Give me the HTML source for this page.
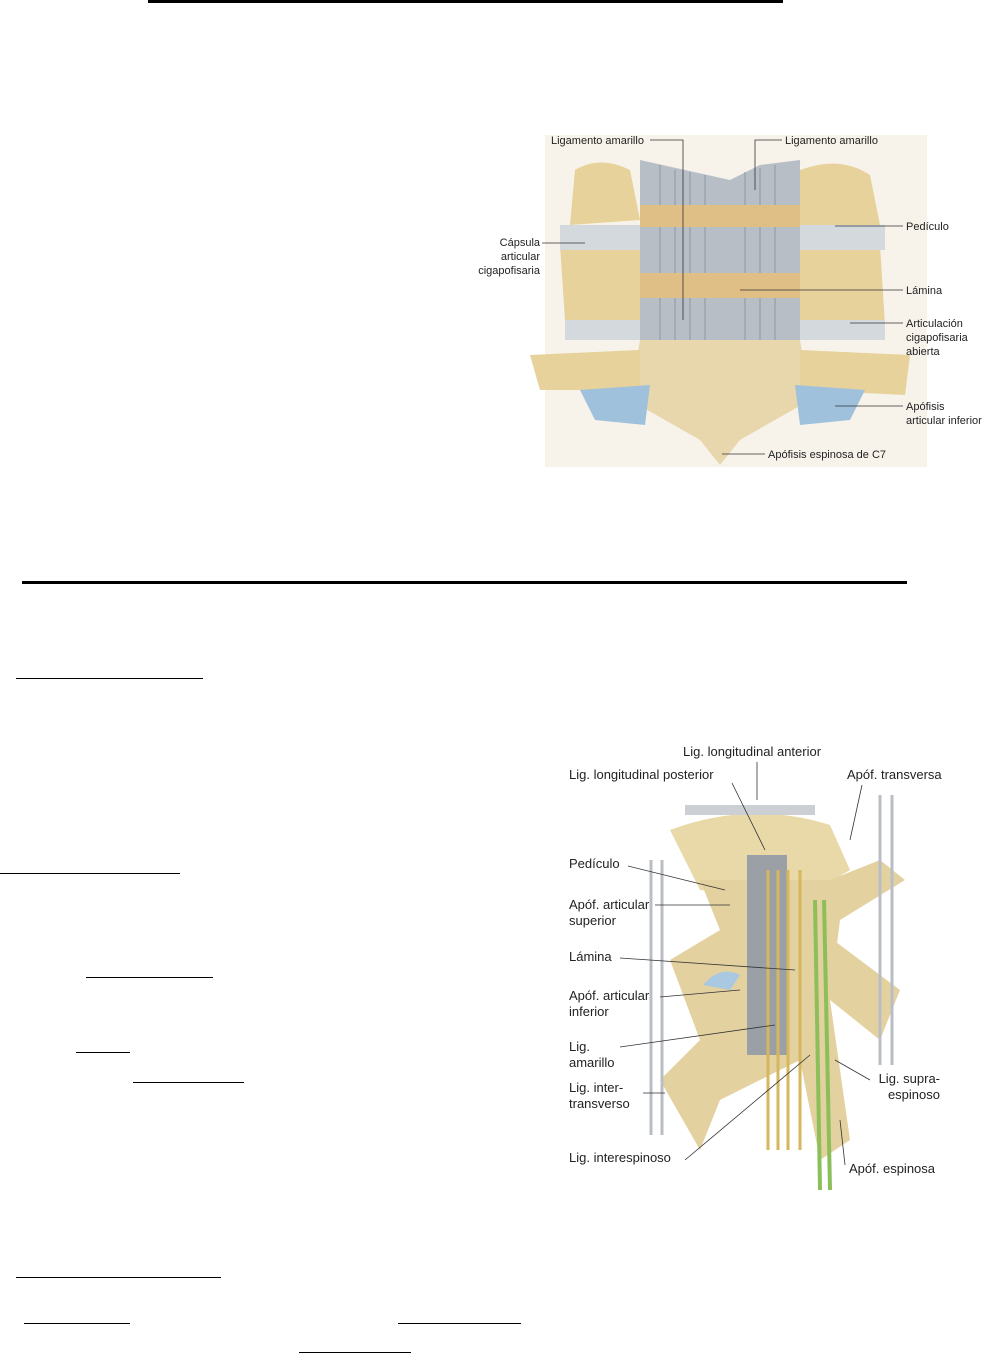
<!DOCTYPE html>
<html><head><meta charset="utf-8">
<style>
body{margin:0;width:1004px;height:1354px;background:#fff;position:relative;overflow:hidden;font-family:"Liberation Sans",Arial,sans-serif;}
.l{position:absolute;background:#000;}
.t{position:absolute;font-size:11px;color:#222;line-height:14px;white-space:nowrap;}
.t2{position:absolute;font-size:13px;color:#222;line-height:16px;white-space:nowrap;}
</style></head><body>
<div class="l" style="left:148px;top:0;width:635px;height:3px"></div>
<div class="l" style="left:22px;top:581px;width:885px;height:3px"></div>
<div class="l" style="left:16px;top:678px;width:187px;height:1px"></div>
<div class="l" style="left:0;top:873px;width:180px;height:1px"></div>
<div class="l" style="left:86px;top:977px;width:127px;height:1px"></div>
<div class="l" style="left:76px;top:1052px;width:54px;height:1px"></div>
<div class="l" style="left:133px;top:1082px;width:111px;height:1px"></div>
<div class="l" style="left:16px;top:1277px;width:205px;height:1px"></div>
<div class="l" style="left:24px;top:1323px;width:106px;height:1px"></div>
<div class="l" style="left:398px;top:1323px;width:123px;height:1px"></div>
<div class="l" style="left:299px;top:1352px;width:112px;height:1px"></div>

<svg style="position:absolute;left:0;top:0" width="1004" height="1354">
<!-- figure 1 -->
<rect x="545" y="135" width="382" height="332" fill="#f7f3ea"/>
<path d="M640 160 L730 180 L760 165 L800 160 L800 340 L640 340 Z" fill="#b7bec6"/>
<g stroke="#8d96a0" stroke-width="1">
<line x1="660" y1="165" x2="660" y2="340"/><line x1="675" y1="170" x2="675" y2="340"/><line x1="690" y1="172" x2="690" y2="340"/><line x1="705" y1="175" x2="705" y2="340"/><line x1="745" y1="172" x2="745" y2="340"/><line x1="760" y1="168" x2="760" y2="340"/><line x1="775" y1="165" x2="775" y2="340"/></g>
<rect x="640" y="205" width="160" height="22" fill="#e0bf86"/>
<rect x="640" y="273" width="160" height="25" fill="#e0bf86"/>
<path d="M640 340 L800 340 L810 400 L740 440 L720 465 L700 440 L630 400 Z" fill="#e8d7ad"/>
<path d="M575 170 Q600 155 630 170 L640 220 L570 225 Z" fill="#e6d29a"/>
<path d="M560 245 L640 250 L640 330 L565 320 Z" fill="#e6d29a"/>
<path d="M800 170 Q840 155 870 175 L880 225 L800 225 Z" fill="#e6d29a"/>
<path d="M800 250 L880 245 L885 325 L800 330 Z" fill="#e6d29a"/>
<rect x="560" y="225" width="80" height="25" fill="#d4d9de"/>
<rect x="800" y="225" width="85" height="25" fill="#d4d9de"/>
<rect x="565" y="320" width="75" height="20" fill="#d4d9de"/>
<rect x="800" y="320" width="85" height="20" fill="#d4d9de"/>
<path d="M530 355 L640 350 L640 390 L540 390 Z" fill="#e6d29a"/>
<path d="M800 350 L910 355 L905 395 L800 390 Z" fill="#e6d29a"/>
<path d="M580 390 L650 385 L645 425 L595 420 Z" fill="#9fc1dc"/>
<path d="M795 385 L865 390 L850 420 L800 425 Z" fill="#9fc1dc"/>
<g stroke="#333" stroke-width="0.8" fill="none">
<path d="M650 140 L683 140 L683 320"/><path d="M782 140 L755 140 L755 190"/>
<line x1="542" y1="243" x2="585" y2="243"/><line x1="835" y1="226" x2="903" y2="226"/>
<line x1="740" y1="290" x2="903" y2="290"/><line x1="850" y1="323" x2="903" y2="323"/>
<line x1="835" y1="406" x2="903" y2="406"/><line x1="722" y1="454" x2="765" y2="454"/>
</g>
<!-- figure 2 -->
<rect x="595" y="810" width="340" height="30" fill="#fff"/>
<path d="M670 830 Q750 800 830 825 L850 870 L800 900 L700 890 Z" fill="#ead9a8"/>
<rect x="685" y="805" width="130" height="10" fill="#ccd0d4"/>
<path d="M700 880 L830 880 L880 860 L905 880 L840 920 L830 1000 L850 1140 L820 1160 L800 1060 L720 1100 L700 1150 L660 1080 L700 1040 L670 960 L720 930 Z" fill="#e3d1a0"/>
<path d="M820 930 L900 990 L880 1040 L830 1000 Z" fill="#e3d1a0"/>
<rect x="747" y="855" width="40" height="200" fill="#9aa0a6"/>
<g stroke="#d6b75e" stroke-width="3"><line x1="768" y1="870" x2="768" y2="1150"/><line x1="778" y1="870" x2="778" y2="1150"/><line x1="788" y1="870" x2="788" y2="1150"/><line x1="800" y1="870" x2="800" y2="1150"/></g>
<g stroke="#8cbf5a" stroke-width="4"><line x1="815" y1="900" x2="820" y2="1190"/><line x1="824" y1="900" x2="830" y2="1190"/></g>
<g stroke="#b9bec4" stroke-width="3">
<line x1="651" y1="860" x2="651" y2="1135"/><line x1="662" y1="860" x2="662" y2="1135"/>
<line x1="880" y1="795" x2="880" y2="1065"/><line x1="892" y1="795" x2="892" y2="1065"/></g>
<path d="M703 985 Q720 965 740 975 L730 990 Z" fill="#a9c8e2"/>
<g stroke="#333" stroke-width="0.8" fill="none">
<line x1="757" y1="762" x2="757" y2="800"/><line x1="732" y1="783" x2="765" y2="850"/>
<line x1="862" y1="785" x2="850" y2="840"/><line x1="628" y1="866" x2="725" y2="890"/>
<line x1="655" y1="905" x2="730" y2="905"/><line x1="620" y1="958" x2="795" y2="970"/>
<line x1="660" y1="997" x2="740" y2="990"/><line x1="620" y1="1047" x2="775" y2="1025"/>
<line x1="643" y1="1093" x2="665" y2="1093"/><line x1="870" y1="1080" x2="835" y2="1060"/>
<line x1="685" y1="1160" x2="810" y2="1055"/><line x1="845" y1="1165" x2="840" y2="1120"/>
</g>
</svg>

<div class="t" style="left:551px;top:134px">Ligamento amarillo</div>
<div class="t" style="left:785px;top:134px">Ligamento amarillo</div>
<div class="t" style="left:474px;top:236px;text-align:right;width:66px">Cápsula<br>articular<br>cigapofisaria</div>
<div class="t" style="left:906px;top:220px">Pedículo</div>
<div class="t" style="left:906px;top:284px">Lámina</div>
<div class="t" style="left:906px;top:317px">Articulación<br>cigapofisaria<br>abierta</div>
<div class="t" style="left:906px;top:400px">Apófisis<br>articular inferior</div>
<div class="t" style="left:768px;top:448px">Apófisis espinosa de C7</div>

<div class="t2" style="left:683px;top:744px">Lig. longitudinal anterior</div>
<div class="t2" style="left:569px;top:767px">Lig. longitudinal posterior</div>
<div class="t2" style="left:847px;top:767px">Apóf. transversa</div>
<div class="t2" style="left:569px;top:856px">Pedículo</div>
<div class="t2" style="left:569px;top:897px">Apóf. articular<br>superior</div>
<div class="t2" style="left:569px;top:949px">Lámina</div>
<div class="t2" style="left:569px;top:988px">Apóf. articular<br>inferior</div>
<div class="t2" style="left:569px;top:1039px">Lig.<br>amarillo</div>
<div class="t2" style="left:569px;top:1080px">Lig. inter-<br>transverso</div>
<div class="t2" style="left:876px;top:1071px;text-align:right;width:64px">Lig. supra-<br>espinoso</div>
<div class="t2" style="left:569px;top:1150px">Lig. interespinoso</div>
<div class="t2" style="left:849px;top:1161px">Apóf. espinosa</div>
</body></html>
